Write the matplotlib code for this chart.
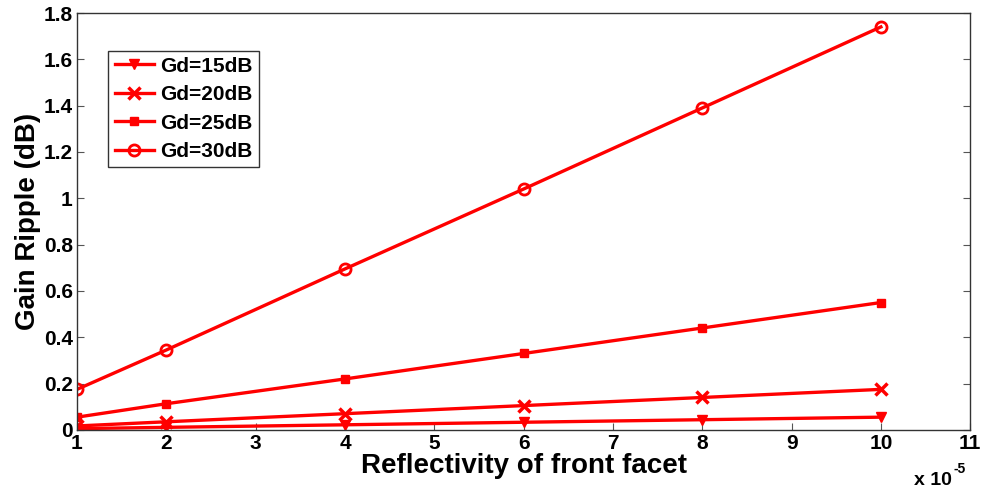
import matplotlib

matplotlib.use("Agg")
import matplotlib.pyplot as plt

plt.rcParams["font.family"] = ["Liberation Sans", "DejaVu Sans"]
plt.rcParams["font.weight"] = "bold"

# front facet reflectivity, in units of 1e-5
reflectivity = [1, 2, 4, 6, 8, 10]
ripple_15 = [0.0055, 0.011, 0.022, 0.033, 0.044, 0.055]
ripple_20 = [0.017, 0.035, 0.07, 0.105, 0.14, 0.175]
ripple_25 = [0.055, 0.113, 0.22, 0.33, 0.44, 0.55]
ripple_30 = [0.175, 0.345, 0.695, 1.04, 1.39, 1.74]
labels = ["Gd=15dB", "Gd=20dB", "Gd=25dB", "Gd=30dB"]

fig = plt.figure(figsize=(9.82, 4.93), dpi=100)
ax = fig.add_axes([0.0784, 0.128, 0.9096, 0.8456])

red = "#ff0000"
ax.plot(reflectivity, ripple_15, "-v", color=red, lw=2.4, ms=7, label=labels[0])
ax.plot(reflectivity, ripple_20, "-x", color=red, lw=2.4, ms=9, mew=2.5, label=labels[1])
ax.plot(reflectivity, ripple_25, "-s", color=red, lw=2.4, ms=6, label=labels[2])
ax.plot(reflectivity, ripple_30, "-o", color=red, lw=2.4, ms=8, mew=2, mfc="none", label=labels[3])

ax.set_xlim(1, 11)
ax.set_ylim(0, 1.8)
ax.set_xticks(range(1, 12))
ax.set_yticks([0, 0.2, 0.4, 0.6, 0.8, 1, 1.2, 1.4, 1.6, 1.8])
ax.set_yticklabels(["0", "0.2", "0.4", "0.6", "0.8", "1", "1.2", "1.4", "1.6", "1.8"])
ax.tick_params(direction="in", labelsize=15, length=5, top=False, right=True,
               color="#555555", pad=3)
for s in ax.spines.values():
    s.set_linewidth(1.0)
    s.set_color("#333333")

ax.set_xlabel("Reflectivity of front facet", fontsize=20, fontweight="bold", labelpad=0)
ax.set_ylabel("Gain Ripple (dB)", fontsize=20, fontweight="bold", labelpad=2)

# MATLAB-style exponent label under the right end of the x axis
ax.text(0.980, -0.100, "x 10", transform=ax.transAxes, ha="right", va="top",
        fontsize=14, fontweight="bold")
ax.text(0.981, -0.077, "-5", transform=ax.transAxes, ha="left", va="top",
        fontsize=10, fontweight="bold")

leg = ax.legend(loc="upper left", bbox_to_anchor=(0.035, 0.91), fontsize=15,
                fancybox=False, framealpha=1, edgecolor="#333333",
                handlelength=1.9, handletextpad=0.3, borderpad=0.3, labelspacing=0.45,
                borderaxespad=0)
leg.get_frame().set_linewidth(1.0)

fig.savefig("out.png", dpi=100)
